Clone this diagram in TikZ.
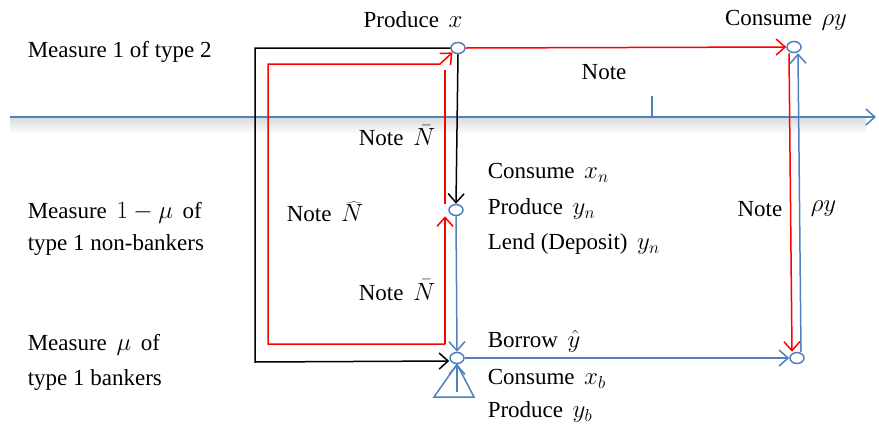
\documentclass[tikz,border=0pt]{standalone}
\usepackage{fontspec}
\setmainfont{Liberation Serif}
\usetikzlibrary{arrows.meta,shapes.geometric}
\definecolor{flowblue}{RGB}{79,129,189}
\definecolor{flowred}{RGB}{255,0,0}

\begin{document}
\begin{tikzpicture}[x=1pt, y=-1pt, line width=1.5pt,
  >={Straight Barb[length=9pt,width=16pt]},
  every node/.style = {font=\fontsize{23}{27}\selectfont, inner sep=0pt},
  agent/.style = {ellipse, draw=flowblue, fill=white, line width=1.5pt,
    minimum width=14pt, minimum height=11pt},
  note/.style = {flowred},
  good/.style = {flowblue}]

  \useasboundingbox (0,0) rectangle (879,424);

  % time line
  \shade[top color=black!14, bottom color=white, draw=none] (10,118) rectangle (866,134);
  \draw[good, ->] (10,117) -- (876,117);
  \draw[good] (652,117) -- (652,96);

  % agents
  \node[agent] (type2) at (458,48) {};
  \node[agent] (cons2) at (794,47) {};
  \node[agent] (nonbank) at (456,210) {};
  \node[agent] (bank) at (457,358) {};
  \node[agent] (cons1) at (797,358) {};
  \coordinate (rb) at (445,344);

  % notes
  \draw[note, ->] (type2.east) -- (cons2.west);
  \draw[note, ->] ([xshift=-5pt]cons2.south) -- ([xshift=-5pt]cons1.north);
  \draw[note, ->] (rb) -| (268,64) -- (440,64) -- (type2.south west);
  \draw[note] (rb |- nonbank.north) -- (445,70);
  \draw[note, ->] (rb) -- (rb |- nonbank.south);

  % goods
  \draw[->] (type2.south) -- (nonbank.north);
  \draw[->] (type2.west) -| (255,362) -- ([yshift=-3pt]bank.west);
  \draw[good, ->] (nonbank.south) -- (bank.north);
  \draw[good, ->] (bank.east) -- (cons1.west);
  \draw[good, ->] ([xshift=4pt]cons1.north) -- ([xshift=4pt]cons2.south);
  \draw[good] (bank.south) -- (434,397) -- (474,397) -- cycle;
  \draw[good, ->] (457,392) -- (bank.south);

  % labels
  \node (prodx) at (413,20) {Produce \,$x$};
  \node (consry) at (786,20) {Consume \,$\rho y$};
  \node (note1) at (604,72) {Note};
  \node[anchor=east] (notebar1) at (436,136) {Note \,$\bar{N}$};
  \node (notehat) at (325,212) {Note \,$\widehat{N}$};
  \node[anchor=east] (notebar2) at (436,290) {Note \,$\bar{N}$};
  \node[anchor=east] (note2) at (783,209) {Note};
  \node[anchor=west] (ry) at (810,209) {$\rho y$};

  \node[anchor=west] (m2) at (27,52) {Measure 1 of type 2};
  \node[anchor=west] (m1a) at (27,213) {Measure \,$1-\mu$\, of};
  \node[anchor=west] (m1b) at (27,245) {type 1 non-bankers};
  \node[anchor=west] (mba) at (27,345) {Measure \,$\mu$\, of};
  \node[anchor=west] (mbb) at (27,380) {type 1 bankers};

  \node[anchor=west] (cn) at (487,173) {Consume \,$x_n$};
  \node[anchor=west] (pn) at (487,209) {Produce \,$y_n$};
  \node[anchor=west] (ln) at (487,244) {Lend (Deposit) \,$y_n$};
  \node[anchor=west] (bb) at (487,341) {Borrow \,$\hat{y}$};
  \node[anchor=west] (cb) at (487,379) {Consume \,$x_b$};
  \node[anchor=west] (pb) at (487,412) {Produce \,$y_b$};
\end{tikzpicture}
\end{document}
